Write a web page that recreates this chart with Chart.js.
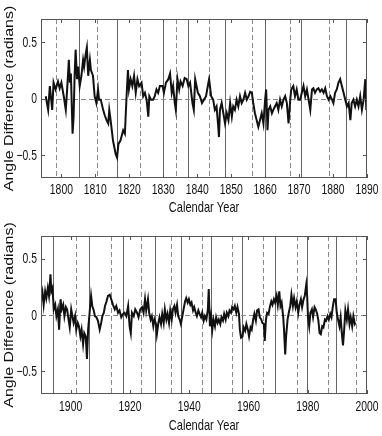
<!DOCTYPE html>
<html>
<head>
<meta charset="utf-8">
<script src="https://cdn.jsdelivr.net/npm/chart.js@4.4.0/dist/chart.umd.min.js"></script>
<style>
  html, body { margin: 0; padding: 0; background: #fff; }
  #wrap { position: relative; width: 382px; height: 436px; }
  canvas { position: absolute; left: 0; }
</style>
</head>
<body>
<div id="wrap">
  <canvas id="topChart" width="382" height="218" style="top:0"></canvas>
  <canvas id="bottomChart" width="382" height="218" style="top:218px"></canvas>
</div>
<script>
// angle difference, 1795-1890 (upper panel)
const yearsTop = [
  1795.4, 1796.1, 1796.6, 1797.3, 1797.7, 1798.3, 1799.0, 1799.5, 1800.0, 1800.7,
  1801.3, 1801.7, 1802.2, 1802.5, 1802.8, 1803.1, 1803.3, 1803.6, 1803.9, 1804.2,
  1804.6, 1804.9, 1805.4, 1805.9, 1806.4, 1806.7, 1807.2, 1807.5, 1807.9, 1808.4,
  1808.7, 1809.3, 1809.8, 1810.3, 1810.8, 1811.1, 1811.6, 1812.3, 1812.8, 1813.3,
  1813.8, 1814.1, 1814.5, 1815.2, 1816.0, 1816.4, 1816.8, 1817.4, 1818.2, 1818.7,
  1819.2, 1819.6, 1819.9, 1820.4, 1820.9, 1821.4, 1821.9, 1822.4, 1822.9, 1823.6,
  1824.1, 1824.6, 1825.1, 1825.6, 1825.9, 1826.4, 1827.0, 1827.5, 1828.0, 1828.5,
  1829.0, 1829.8, 1830.2, 1830.8, 1831.5, 1832.0, 1832.5, 1832.9, 1833.4, 1833.7,
  1834.2, 1834.7, 1835.1, 1835.7, 1836.3, 1836.9, 1837.4, 1837.9, 1838.6, 1839.0,
  1839.4, 1839.8, 1840.2, 1840.8, 1841.4, 1842.0, 1842.6, 1843.3, 1843.5, 1844.1,
  1844.7, 1845.2, 1845.7, 1846.2, 1846.4, 1846.7, 1847.2, 1847.7, 1848.2, 1848.7,
  1849.2, 1849.7, 1850.2, 1850.6, 1851.1, 1851.6, 1852.1, 1852.6, 1853.1, 1853.6,
  1854.1, 1854.6, 1855.1, 1855.6, 1856.1, 1856.5, 1857.0, 1857.5, 1858.0, 1858.5,
  1859.0, 1859.5, 1860.0, 1860.3, 1860.7, 1861.0, 1861.5, 1862.0, 1862.4, 1862.9,
  1863.4, 1863.9, 1864.4, 1864.9, 1865.4, 1865.9, 1866.4, 1866.9, 1867.4, 1867.7,
  1868.3, 1868.8, 1869.3, 1869.8, 1870.3, 1870.8, 1871.3, 1871.8, 1872.3, 1872.8,
  1873.3, 1873.8, 1874.2, 1874.7, 1875.2, 1875.7, 1876.2, 1876.7, 1877.2, 1877.7,
  1878.2, 1878.7, 1879.2, 1879.7, 1880.1, 1880.6, 1881.1, 1881.6, 1882.1, 1882.6,
  1883.1, 1883.6, 1884.1, 1884.6, 1885.1, 1885.5, 1886.0, 1886.5, 1887.0, 1887.5,
  1888.0, 1888.5, 1889.0, 1889.5, 1889.8, 1890.0
];
const valuesTop = [
  0.02, -0.10, 0.11, -0.10, 0.14, 0.08, 0.15, 0.09, 0.14, 0.02,
  -0.10, 0.08, 0.34, 0.14, 0.22, -0.10, -0.31, -0.16, 0.20, 0.43,
  0.17, 0.28, 0.11, 0.20, 0.34, 0.28, 0.40, 0.45, 0.20, 0.34,
  0.25, 0.20, 0.02, -0.04, 0.08, -0.01, -0.01, -0.10, -0.15, -0.19,
  -0.22, -0.10, -0.19, -0.37, -0.49, -0.52, -0.40, -0.37, -0.28, -0.31,
  0.02, 0.25, 0.08, 0.17, 0.11, 0.20, 0.05, 0.17, 0.11, 0.14,
  0.02, 0.05, -0.01, -0.16, 0.02, -0.01, -0.01, 0.02, 0.08, 0.05,
  0.11, 0.11, 0.05, 0.14, 0.17, 0.22, 0.05, 0.11, -0.04, -0.10,
  0.17, 0.08, 0.15, 0.11, 0.18, 0.17, 0.11, 0.14, -0.04, -0.10,
  0.17, 0.11, 0.05, 0.02, -0.04, -0.01, 0.02, 0.14, 0.17, 0.02,
  -0.01, -0.10, -0.07, -0.25, -0.34, -0.10, -0.04, -0.13, -0.22, -0.13,
  -0.19, -0.04, -0.16, -0.07, -0.10, -0.01, -0.07, 0.02, -0.04, -0.01,
  0.05, -0.01, 0.02, 0.06, 0.05, -0.04, -0.13, -0.19, -0.25, -0.19,
  -0.13, -0.22, -0.01, 0.08, -0.28, -0.10, -0.07, -0.13, -0.10, -0.07,
  -0.04, -0.10, -0.01, -0.07, -0.01, 0.02, -0.04, -0.22, -0.01, 0.08,
  0.11, 0.02, 0.08, -0.01, -0.01, 0.05, 0.11, 0.02, 0.08, -0.01,
  -0.10, 0.08, 0.09, 0.05, 0.08, 0.09, 0.06, 0.08, 0.05, 0.09,
  0.02, -0.01, 0.02, -0.01, -0.04, 0.05, 0.08, 0.14, 0.17, 0.11,
  0.05, -0.01, -0.07, -0.04, -0.19, -0.04, -0.01, -0.07, -0.01, -0.07,
  0.02, -0.10, -0.01, 0.17, -0.10, 0.15
];

// angle difference, 1890-1996 (lower panel)
const yearsBottom = [
  1890.0, 1890.5, 1890.9, 1891.4, 1891.8, 1892.3, 1892.7, 1893.2, 1893.5, 1893.9,
  1894.3, 1894.8, 1895.2, 1895.7, 1896.1, 1896.6, 1897.0, 1897.5, 1897.9, 1898.4,
  1898.8, 1899.3, 1899.7, 1900.2, 1900.6, 1901.0, 1901.5, 1901.9, 1902.4, 1902.8,
  1903.3, 1903.7, 1904.2, 1904.6, 1905.1, 1905.5, 1905.9, 1906.4, 1906.9, 1907.3,
  1907.8, 1908.2, 1908.7, 1909.2, 1909.8, 1910.3, 1910.7, 1911.2, 1911.6, 1912.1,
  1912.6, 1913.2, 1913.7, 1914.3, 1914.9, 1915.4, 1916.0, 1916.5, 1917.1, 1917.7,
  1918.2, 1918.8, 1919.4, 1919.9, 1920.3, 1920.7, 1921.3, 1921.8, 1922.4, 1922.9,
  1923.5, 1924.1, 1924.6, 1925.1, 1925.5, 1926.1, 1926.5, 1927.0, 1927.4, 1927.9,
  1928.3, 1928.8, 1929.1, 1929.6, 1930.0, 1930.5, 1930.9, 1931.4, 1931.8, 1932.3,
  1932.7, 1933.2, 1933.6, 1934.1, 1934.5, 1935.0, 1935.4, 1935.9, 1936.3, 1936.8,
  1937.2, 1937.7, 1938.1, 1938.6, 1939.0, 1939.5, 1939.9, 1940.4, 1940.8, 1941.3,
  1941.7, 1942.2, 1942.6, 1943.1, 1943.5, 1944.0, 1944.4, 1944.9, 1945.3, 1945.8,
  1946.3, 1946.6, 1947.0, 1947.4, 1947.8, 1948.2, 1948.7, 1949.1, 1949.6, 1950.0,
  1950.5, 1950.9, 1951.4, 1951.8, 1952.3, 1952.7, 1953.2, 1953.6, 1954.1, 1954.5,
  1955.0, 1955.4, 1955.9, 1956.3, 1956.8, 1957.1, 1957.5, 1958.0, 1958.4, 1958.9,
  1959.3, 1959.8, 1960.2, 1960.7, 1961.1, 1961.6, 1962.0, 1962.5, 1962.9, 1963.4,
  1963.8, 1964.3, 1964.7, 1965.2, 1965.5, 1965.9, 1966.3, 1966.8, 1967.2, 1967.7,
  1968.1, 1968.6, 1969.0, 1969.5, 1969.9, 1970.4, 1970.8, 1971.2, 1971.7, 1972.0,
  1972.4, 1972.7, 1973.2, 1973.6, 1974.1, 1974.5, 1975.0, 1975.4, 1975.9, 1976.3,
  1976.8, 1977.2, 1977.7, 1978.1, 1978.6, 1979.0, 1979.5, 1979.8, 1980.1, 1980.5,
  1980.9, 1981.4, 1981.8, 1982.3, 1982.7, 1983.2, 1983.6, 1984.0, 1984.4, 1984.9,
  1985.3, 1985.8, 1986.2, 1986.7, 1987.1, 1987.6, 1988.0, 1988.5, 1988.9, 1989.4,
  1989.8, 1990.3, 1990.7, 1991.1, 1991.6, 1991.9, 1992.3, 1992.7, 1993.2, 1993.6,
  1994.1, 1994.5, 1995.0, 1995.4, 1995.9, 1996.1
];
const valuesBottom = [
  0.12, 0.20, 0.09, 0.21, 0.15, 0.24, 0.17, 0.36, 0.21, 0.24,
  0.05, 0.09, -0.01, 0.05, -0.13, 0.14, 0.05, 0.09, -0.01, 0.07,
  0.05, -0.04, -0.11, 0.05, -0.01, -0.07, -0.01, -0.13, -0.07, -0.10,
  -0.19, -0.13, -0.26, -0.16, -0.19, -0.39, -0.13, 0.02, 0.17, 0.08,
  0.04, -0.01, -0.02, -0.05, -0.13, -0.07, -0.01, 0.02, 0.08, 0.12,
  0.17, 0.18, 0.14, 0.09, 0.05, 0.08, 0.02, 0.04, -0.02, 0.01,
  0.02, -0.01, 0.08, -0.10, -0.16, 0.02, -0.01, 0.05, 0.02, -0.02,
  0.05, 0.07, 0.02, 0.14, 0.04, 0.14, 0.02, -0.04, -0.01, -0.10,
  -0.04, -0.08, -0.17, -0.07, -0.02, -0.08, 0.01, -0.07, 0.05, -0.04,
  0.01, -0.07, 0.04, -0.04, 0.05, 0.08, 0.02, 0.09, -0.01, -0.04,
  -0.08, -0.01, 0.05, 0.12, 0.15, 0.11, 0.14, 0.09, 0.11, 0.04,
  0.07, 0.02, -0.01, 0.04, 0.01, -0.02, 0.02, -0.05, -0.01, -0.04,
  0.05, 0.23, -0.10, -0.01, -0.13, -0.04, -0.10, -0.02, -0.07, -0.04,
  -0.08, -0.02, -0.05, 0.01, -0.04, 0.02, -0.01, 0.04, 0.02, 0.07,
  0.05, 0.08, 0.02, 0.07, 0.01, -0.13, -0.20, -0.19, -0.11, -0.14,
  -0.08, -0.13, -0.19, -0.11, -0.13, -0.04, 0.01, -0.05, 0.04, 0.05,
  -0.02, -0.04, -0.07, -0.08, -0.23, -0.04, 0.02, 0.01, 0.07, 0.12,
  0.09, 0.14, 0.11, 0.17, 0.09, 0.21, 0.08, 0.11, -0.01, -0.13,
  -0.35, -0.19, -0.04, 0.02, 0.08, 0.18, 0.08, 0.15, 0.07, 0.12,
  0.02, 0.09, 0.14, 0.07, 0.14, 0.17, 0.27, 0.17, -0.02, -0.10,
  0.02, 0.05, -0.02, 0.07, 0.05, 0.01, -0.05, -0.16, -0.17, -0.10,
  -0.11, -0.04, -0.05, -0.01, -0.04, 0.01, -0.02, 0.08, 0.14, 0.14,
  0.02, -0.05, -0.10, -0.02, -0.19, -0.27, -0.13, 0.04, -0.04, 0.05,
  -0.08, -0.02, -0.10, -0.01, -0.08, -0.07
];

// solar cycle maxima (solid) and minima (dashed)
const maxTop = [1805.2, 1816.4, 1829.9, 1837.2, 1848.1, 1860.1, 1870.6, 1883.9];
const minTop = [1798.3, 1810.6, 1823.3, 1833.9, 1843.5, 1856.0, 1867.2, 1878.9, 1889.6];
const maxBottom = [1894.1, 1906.2, 1917.6, 1928.4, 1937.4, 1947.5, 1957.9, 1968.9, 1979.9, 1989.6];
const minBottom = [1901.7, 1913.6, 1923.6, 1933.8, 1944.2, 1954.3, 1964.9, 1976.5, 1986.8, 1996.4];

const xTicksTop = [1800, 1810, 1820, 1830, 1840, 1850, 1860, 1870, 1880, 1890];
const xTicksBottom = [1900, 1920, 1940, 1960, 1980, 2000];
const yTicks = [-0.5, 0, 0.5];

const yTitle = 'Angle Difference (radians)';
const xTitle = 'Calendar Year';

const sans = '"Liberation Sans", Arial, Helvetica, sans-serif';
const squeeze = 0.74; // the original figure is horizontally compressed

// text drawn squeezed horizontally around (x, y)
function squeezedText(ctx, txt, x, y, align) {
  ctx.save();
  ctx.translate(x, y);
  ctx.scale(squeeze, 1);
  ctx.textAlign = align;
  ctx.fillText(txt, 0, 0);
  ctx.restore();
}

function yLabel(v) {
  return v < 0 ? '\u2212' + Math.abs(v) : String(v);
}

function panelDecor(maxima, minima, tickGap, titleGap) {
  return {
    id: 'panelDecor',
    beforeDatasetsDraw(chart) {
      const { ctx, chartArea: a, scales: { x, y } } = chart;
      ctx.save();
      ctx.beginPath();
      ctx.rect(a.left, a.top, a.right - a.left, a.bottom - a.top);
      ctx.clip();
      ctx.lineWidth = 1;
      ctx.strokeStyle = '#666';
      ctx.setLineDash([]);
      maxima.forEach(function (yr) {
        const px = Math.round(x.getPixelForValue(yr)) + 0.5;
        ctx.beginPath(); ctx.moveTo(px, a.top); ctx.lineTo(px, a.bottom); ctx.stroke();
      });
      ctx.strokeStyle = '#8a8a8a';
      ctx.setLineDash([5, 3]);
      minima.forEach(function (yr) {
        const px = Math.round(x.getPixelForValue(yr)) + 0.5;
        ctx.beginPath(); ctx.moveTo(px, a.top); ctx.lineTo(px, a.bottom); ctx.stroke();
      });
      // zero line
      const py = Math.round(y.getPixelForValue(0)) + 0.5;
      ctx.beginPath(); ctx.moveTo(a.left, py); ctx.lineTo(a.right, py); ctx.stroke();
      ctx.restore();
    },
    afterDatasetsDraw(chart) {
      const { ctx, chartArea: a, scales: { x, y } } = chart;
      ctx.save();
      ctx.lineWidth = 1;
      ctx.strokeStyle = '#555';
      ctx.strokeRect(a.left + 0.5, a.top + 0.5, a.right - a.left - 1, a.bottom - a.top - 1);
      // inward tick marks on all four sides
      ctx.beginPath();
      x.ticks.forEach(function (t) {
        const px = Math.round(x.getPixelForValue(t.value)) + 0.5;
        ctx.moveTo(px, a.bottom); ctx.lineTo(px, a.bottom - 4);
        ctx.moveTo(px, a.top); ctx.lineTo(px, a.top + 4);
      });
      y.ticks.forEach(function (t) {
        const py = Math.round(y.getPixelForValue(t.value)) + 0.5;
        ctx.moveTo(a.left, py); ctx.lineTo(a.left + 4, py);
        ctx.moveTo(a.right, py); ctx.lineTo(a.right - 4, py);
      });
      ctx.stroke();

      // tick labels
      ctx.fillStyle = '#111';
      ctx.font = '14px ' + sans;
      ctx.textBaseline = 'alphabetic';
      x.ticks.forEach(function (t) {
        squeezedText(ctx, String(t.value), x.getPixelForValue(t.value), a.bottom + tickGap, 'center');
      });
      ctx.textBaseline = 'middle';
      y.ticks.forEach(function (t) {
        squeezedText(ctx, yLabel(t.value), a.left - 4, y.getPixelForValue(t.value) + 1, 'right');
      });

      // axis titles
      ctx.font = '15px ' + sans;
      ctx.textBaseline = 'alphabetic';
      squeezedText(ctx, xTitle, (a.left + a.right) / 2, a.bottom + titleGap, 'center');

      ctx.translate(9.5, (a.top + a.bottom) / 2);
      ctx.rotate(-Math.PI / 2);
      ctx.scale(1, squeeze);
      ctx.font = '16px ' + sans;
      ctx.textAlign = 'center';
      ctx.textBaseline = 'middle';
      ctx.fillText(yTitle, 0, 0);
      ctx.restore();
    }
  };
}

function makePanel(id, years, values, xMin, xMax, xTicks, maxima, minima, padTop, axisHeight, tickGap, titleGap) {
  const points = years.map(function (yr, i) { return { x: yr, y: values[i] }; });
  return new Chart(document.getElementById(id), {
    type: 'line',
    data: {
      datasets: [{
        data: points,
        borderColor: '#111',
        borderWidth: 2,
        pointRadius: 0,
        tension: 0,
        fill: false
      }]
    },
    options: {
      responsive: false,
      animation: false,
      devicePixelRatio: 1,
      events: [],
      layout: { padding: { top: padTop, right: 15, left: 0, bottom: 0 } },
      plugins: { legend: { display: false }, tooltip: { enabled: false } },
      scales: {
        x: {
          type: 'linear',
          min: xMin,
          max: xMax,
          afterBuildTicks: function (s) { s.ticks = xTicks.map(function (v) { return { value: v }; }); },
          afterFit: function (s) { s.height = axisHeight; },
          grid: { display: false, drawTicks: false },
          border: { display: false },
          ticks: { display: false }
        },
        y: {
          min: -0.7,
          max: 0.7,
          afterBuildTicks: function (s) { s.ticks = yTicks.map(function (v) { return { value: v }; }); },
          afterFit: function (s) { s.width = 41; },
          grid: { display: false, drawTicks: false },
          border: { display: false },
          ticks: { display: false }
        }
      }
    },
    plugins: [panelDecor(maxima, minima, tickGap, titleGap)]
  });
}

makePanel('topChart', yearsTop, valuesTop, 1794, 1890, xTicksTop, maxTop, minTop, 19, 40, 16, 34);
makePanel('bottomChart', yearsBottom, valuesBottom, 1890, 2000, xTicksBottom, maxBottom, minBottom, 18, 42, 17, 36);
</script>
</body>
</html>
